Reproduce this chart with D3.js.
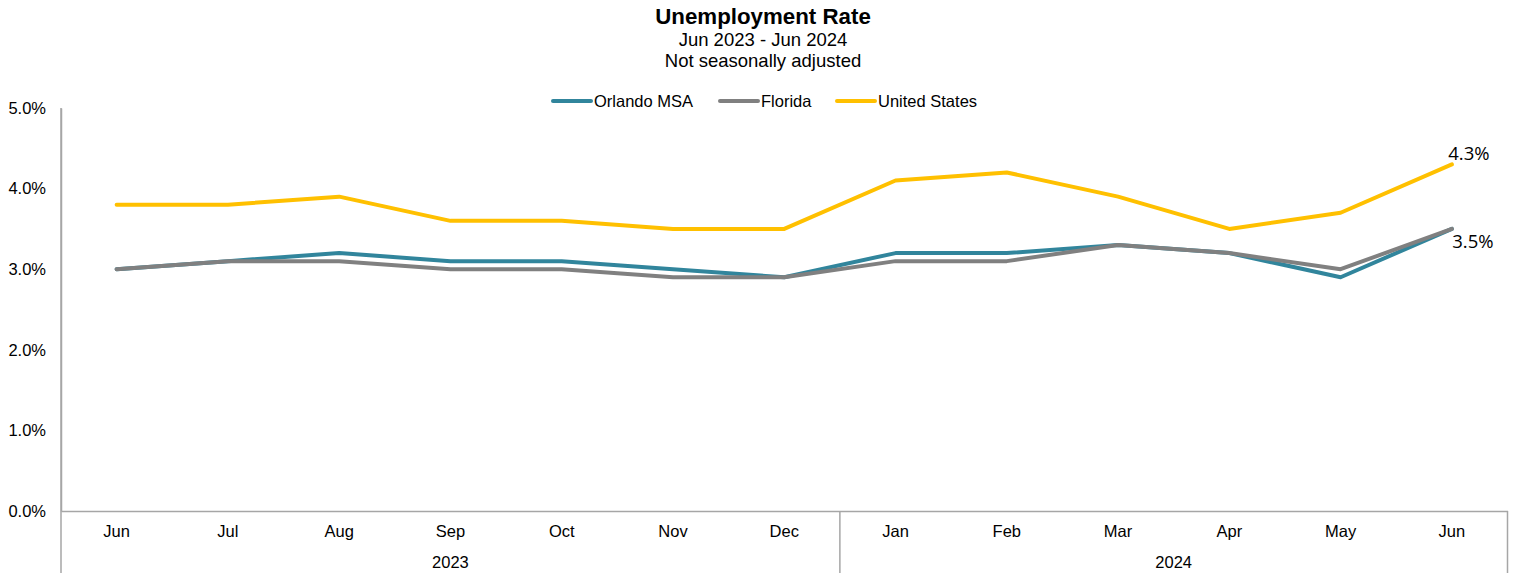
<!DOCTYPE html>
<html lang="en">
<head>
<meta charset="UTF-8">
<title>Unemployment Rate</title>
<script src="https://d3js.org/d3.v7.min.js"></script>
<style>
    body { margin: 0; background: #fff; }
    svg { display: block; font-family: "Liberation Sans", Arial, sans-serif; }
</style>
</head>
<body>
<svg width="1519" height="573"></svg>
<script>
    const months = ["Jun", "Jul", "Aug", "Sep", "Oct", "Nov", "Dec", "Jan", "Feb", "Mar", "Apr", "May", "Jun"];
    const years = [{ label: "2023", from: 0, to: 6 }, { label: "2024", from: 7, to: 12 }];
    const orlando = [3.0, 3.1, 3.2, 3.1, 3.1, 3.0, 2.9, 3.2, 3.2, 3.3, 3.2, 2.9, 3.5];
    const florida = [3.0, 3.1, 3.1, 3.0, 3.0, 2.9, 2.9, 3.1, 3.1, 3.3, 3.2, 3.0, 3.5];
    const us = [3.8, 3.8, 3.9, 3.6, 3.6, 3.5, 3.5, 4.1, 4.2, 3.9, 3.5, 3.7, 4.3];
    const yTicks = [0, 1, 2, 3, 4, 5];

    const series = [
        { name: "Orlando MSA", values: orlando, color: "#31859c" },
        { name: "Florida", values: florida, color: "#808080" },
        { name: "United States", values: us, color: "#ffc000" }
    ];

    const svg = d3.select("svg");
    const plotLeft = 61, plotRight = 1507.5, plotTop = 108, plotBottom = 511;
    const axisFont = 16.5;

    const x = d3.scaleBand().domain(d3.range(months.length)).range([plotLeft, plotRight]);
    const y = d3.scaleLinear().domain([0, 5]).range([plotBottom, plotTop]);
    const cx = i => x(i) + x.bandwidth() / 2;

    // titles
    svg.append("text").attr("x", 763).attr("y", 24).attr("text-anchor", "middle")
        .attr("font-size", 22.3).attr("font-weight", "bold").text("Unemployment Rate");
    svg.append("text").attr("x", 763).attr("y", 46).attr("text-anchor", "middle")
        .attr("font-size", 18.5).text("Jun 2023 - Jun 2024");
    svg.append("text").attr("x", 763).attr("y", 67).attr("text-anchor", "middle")
        .attr("font-size", 18.5).text("Not seasonally adjusted");

    // y axis
    const yAxis = svg.append("g").attr("transform", `translate(${plotLeft},0)`)
        .call(d3.axisLeft(y).tickValues(yTicks).tickSize(0).tickPadding(15).tickFormat(d => d.toFixed(1) + "%"));
    yAxis.select(".domain").attr("stroke", "#a6a6a6").attr("stroke-width", 1.5);
    yAxis.selectAll("text").attr("font-size", axisFont).attr("font-family", "Liberation Sans, Arial, sans-serif").attr("fill", "#000");

    // x axis (months)
    const xAxis = svg.append("g").attr("transform", `translate(0,${plotBottom})`)
        .call(d3.axisBottom(x).tickSize(0).tickPadding(14).tickFormat(i => months[i]));
    xAxis.select(".domain").attr("stroke", "#a6a6a6").attr("stroke-width", 1.5);
    xAxis.selectAll("text").attr("font-size", axisFont).attr("font-family", "Liberation Sans, Arial, sans-serif").attr("fill", "#000");

    // year groups
    const sepColor = "#a6a6a6";
    [plotLeft, x(7), plotRight].forEach(px => {
        svg.append("line").attr("x1", px).attr("x2", px).attr("y1", plotBottom).attr("y2", 573)
            .attr("stroke", sepColor).attr("stroke-width", 1.5);
    });
    svg.append("line").attr("x1", plotLeft).attr("x2", plotLeft).attr("y1", plotTop).attr("y2", plotBottom)
        .attr("stroke", sepColor).attr("stroke-width", 1.5);
    years.forEach(yr => {
        const mid = (x(yr.from) + x(yr.to) + x.bandwidth()) / 2;
        svg.append("text").attr("x", mid).attr("y", 568).attr("text-anchor", "middle")
            .attr("font-size", axisFont).text(yr.label);
    });

    // lines
    const line = d3.line().x((d, i) => cx(i)).y(d => y(d));
    svg.append("g").selectAll("path").data(series).join("path")
        .attr("d", s => line(s.values))
        .attr("fill", "none")
        .attr("stroke", s => s.color)
        .attr("stroke-width", 4)
        .attr("stroke-linecap", "round")
        .attr("stroke-linejoin", "round");

    // end labels
    const last = months.length - 1;
    svg.append("text").attr("x", cx(last) + 17).attr("y", y(us[last]) - 4).attr("text-anchor", "middle")
        .attr("font-family", "Open Sans, sans-serif").attr("font-size", 18.5).text(us[last].toFixed(1) + "%");
    svg.append("text").attr("x", cx(last) + 21).attr("y", y(orlando[last]) + 19).attr("text-anchor", "middle")
        .attr("font-family", "Open Sans, sans-serif").attr("font-size", 18.5).text(orlando[last].toFixed(1) + "%");

    // legend
    const legendX = [553, 720, 837];
    const legend = svg.append("g").selectAll("g").data(series).join("g")
        .attr("transform", (s, i) => `translate(${legendX[i]},101)`);
    legend.append("line").attr("x1", 0).attr("x2", 38).attr("y1", 0).attr("y2", 0)
        .attr("stroke", s => s.color).attr("stroke-width", 4).attr("stroke-linecap", "round");
    legend.append("text").attr("x", 41).attr("y", 6).attr("font-size", axisFont).text(s => s.name);
</script>
</body>
</html>
